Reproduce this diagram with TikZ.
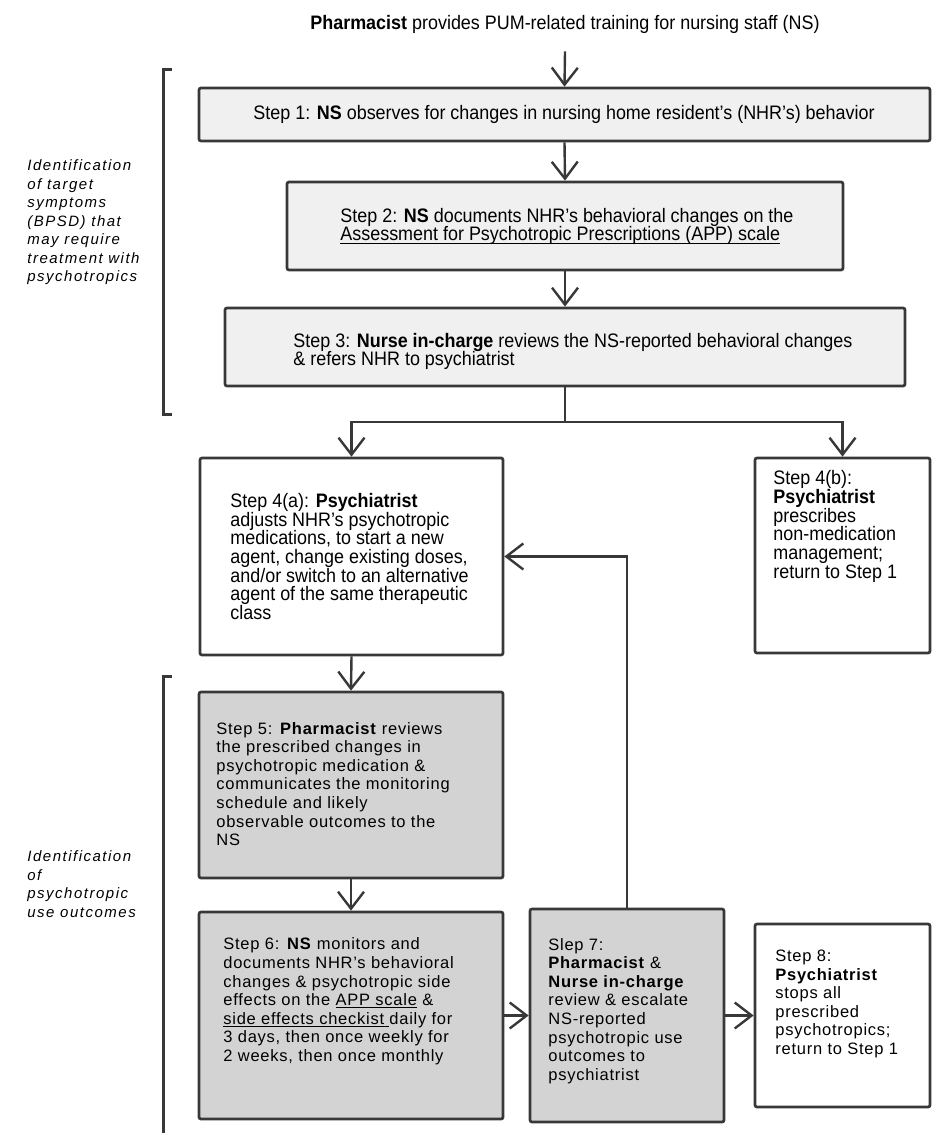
\documentclass[tikz,border=0pt]{standalone}
\usepackage{fontspec}
\setmainfont{Liberation Sans}
\newfontfamily\narrowfont[FakeStretch=0.92]{Liberation Sans}
\newfontfamily\widefont[LetterSpace=4.5]{Liberation Sans}
\newfontfamily\sidefont[LetterSpace=10]{Liberation Sans}
\usetikzlibrary{arrows.meta,fit}
\definecolor{lightfill}{HTML}{F0F0F0}
\definecolor{darkfill}{HTML}{D3D3D3}
\definecolor{edge}{HTML}{383838}
\newcommand\undl[1]{\setbox0\hbox{#1}\rlap{\rule[-1.3pt]{\wd0}{0.45pt}}\box0\relax}
\tikzset{
  box/.style={draw=edge, line width=1.35pt, rounded corners=1pt, inner sep=0pt},
  narrowtxt/.style={inner sep=0pt, align=left, anchor=west, font={\narrowfont\fontsize{9.75pt}{9.35pt}\selectfont}},
  widetxt/.style={inner sep=0pt, align=left, anchor=west, font={\widefont\fontsize{8.25pt}{9.3pt}\selectfont}},
  sidetxt/.style={inner sep=0pt, align=left, anchor=west, font={\sidefont\itshape\fontsize{7.5pt}{9.25pt}\selectfont}},
  conn/.style={draw=edge, line width=1.2pt},
  arr/.style={conn, -{Straight Barb[length=8.5pt,width=13pt]}},
  bracket/.style={draw=edge, line width=1.5pt}
}
\begin{document}
\begin{tikzpicture}[x=0.5pt, y=-0.5pt]
	\useasboundingbox (0,0) rectangle (936,1133);
	
	\node[narrowtxt, anchor=center, inner ysep=9pt] (title) at (565,24) {\textbf{Pharmacist} provides PUM-related training for nursing staff (NS)};
	
	\node[box, fill=lightfill, fit={(199,88) (930,141)}] (s1) {};
	\node[box, fill=lightfill, fit={(287,182) (843,270)}] (s2) {};
	\node[box, fill=lightfill, fit={(225,308) (905,386)}] (s3) {};
	\node[box, fit={(200,458) (503,655)}] (s4a) {};
	\node[box, fit={(755,458) (930,653)}] (s4b) {};
	\node[box, fill=darkfill, fit={(199,692) (503,878)}] (s5) {};
	\node[box, fill=darkfill, fit={(199,912) (503,1119)}] (s6) {};
	\node[box, fill=darkfill, fit={(530,909) (724,1122)}] (s7) {};
	\node[box, fit={(755,924) (930,1107)}] (s8) {};
	
	\node[narrowtxt] (t1) at (253,114.5) {Step 1: \textbf{NS} observes for changes in nursing home resident’s (NHR’s) behavior};
	\node[narrowtxt] (t2) at (340,226.5) {Step 2: \textbf{NS} documents NHR’s behavioral changes on the\\ \undl{Assessment for Psychotropic Prescriptions (APP) scale}};
	\node[narrowtxt] (t3) at (293,351.5) {Step 3: \textbf{Nurse in-charge} reviews the NS-reported behavioral changes\\ \& refers NHR to psychiatrist};
	\node[narrowtxt] (t4a) at (230,556.5) {Step 4(a): \textbf{Psychiatrist}\\ adjusts NHR’s psychotropic\\ medications, to start a new\\ agent, change existing doses,\\ and/or switch to an alternative\\ agent of the same therapeutic\\ class};
	\node[narrowtxt] (t4b) at (773,526.5) {Step 4(b):\\ \textbf{Psychiatrist}\\ prescribes\\ non-medication\\ management;\\ return to Step 1};
	\node[widetxt] (t5) at (216,784) {Step 5: \textbf{Pharmacist} reviews\\ the prescribed changes in\\ psychotropic medication \&\\ communicates the monitoring\\ schedule and likely\\ observable outcomes to the\\ NS};
	\node[widetxt] (t6) at (223,1001.5) {Step 6: \textbf{NS} monitors and\\ documents NHR’s behavioral\\ changes \& psychotropic side\\ effects on the \undl{APP scale} \&\\ \undl{side effects checkist }daily for\\ 3 days, then once weekly for\\ 2 weeks, then once monthly};
	\node[widetxt] (t7) at (548,1011) {Slep 7:\\ \textbf{Pharmacist} \&\\ \textbf{Nurse in-charge}\\ review \& escalate\\ NS-reported\\ psychotropic use\\ outcomes to\\ psychiatrist};
	\node[widetxt] (t8) at (775,1004) {Step 8:\\ \textbf{Psychiatrist}\\ stops all\\ prescribed\\ psychotropics;\\ return to Step 1};
	
	\node[sidetxt] (lab1) at (27,222.5) {Identification\\ of target\\ symptoms\\ (BPSD) that\\ may require\\ treatment with\\ psychotropics};
	\node[sidetxt] (lab2) at (27,884) {Identification\\ of\\ psychotropic\\ use outcomes};
	\draw[bracket] (172,70) -- (163,70) -- (163,415) -- (172,415);
	\draw[bracket] (172,676) -- (163,676) -- (163,1133);
	
	\coordinate (split) at (565,422);
	\draw[arr] (title.south) -- (s1.north);
	\draw[arr] (s1.south) -- (s2.north);
	\draw[arr] (s2.south) -- (s3.north);
	\draw[conn] (s3.south) -- (split);
	\draw[arr] (split) -| (s4a.north);
	\draw[arr] (split) -| (s4b.north);
	\draw[arr] (s4a.south) -- (s5.north);
	\draw[arr] (s5.south) -- (s6.north);
	\draw[arr] (s6.east) -- (s7.west);
	\draw[arr] (s7.east) -- (s8.west);
	\draw[arr] (s7.north) |- (s4a.east);
\end{tikzpicture}
\end{document}
